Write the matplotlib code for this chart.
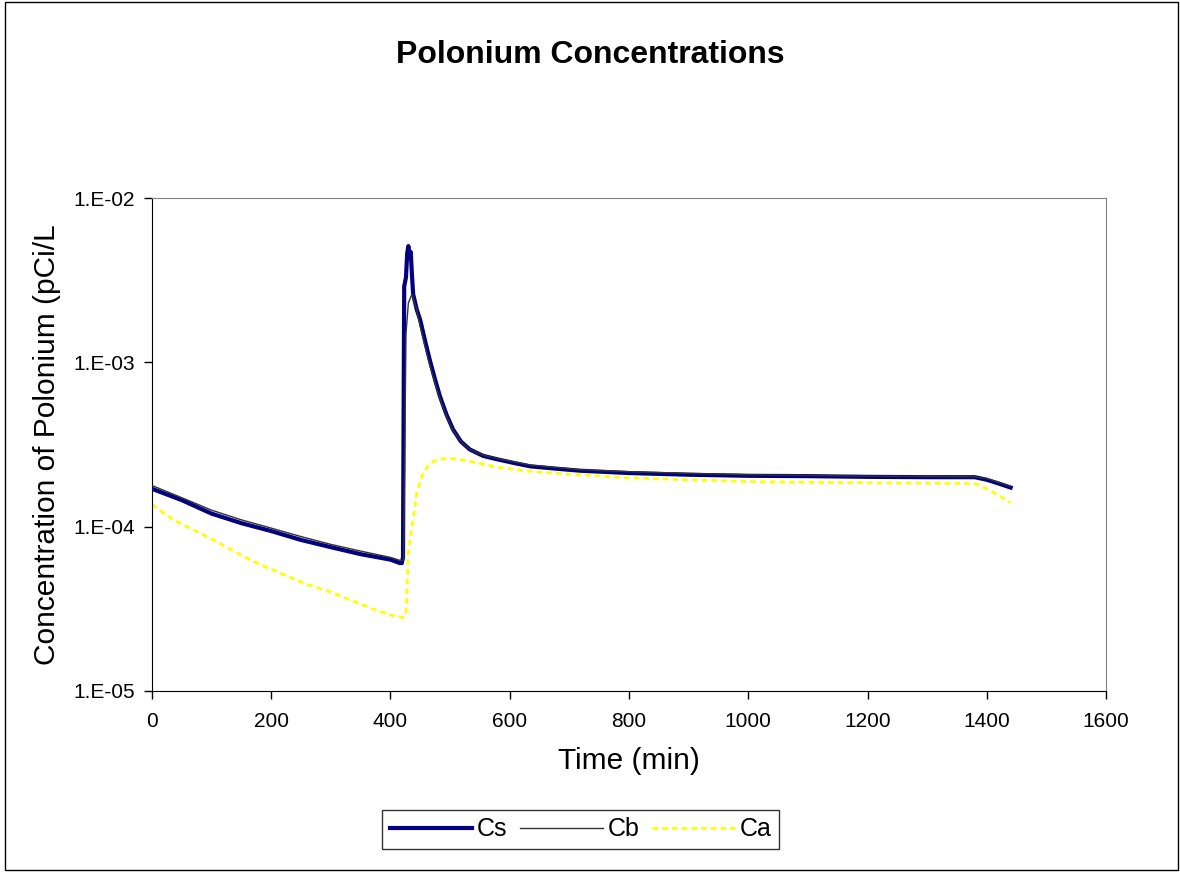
import math
import matplotlib
matplotlib.use("Agg")
import matplotlib.pyplot as plt
from matplotlib.ticker import FixedLocator, FuncFormatter, NullLocator
from matplotlib.patches import Rectangle

plt.rcParams['font.family'] = ['Liberation Sans', 'DejaVu Sans']

# Cs - surface concentration (pCi/L)
cs_t = [0, 50, 100, 150, 200, 250, 300, 350, 400, 416, 419, 421, 422, 423, 426, 428, 430,
        432, 434, 436, 438, 444, 450, 458, 466, 475, 483, 494, 505, 518, 533, 555, 579,
        605, 634, 680, 718, 800, 900, 1000, 1100, 1200, 1300, 1380, 1400, 1420, 1440]
cs_v = [1.70e-4, 1.45e-4, 1.20e-4, 1.05e-4, 9.4e-5, 8.3e-5, 7.5e-5, 6.8e-5, 6.3e-5, 6.0e-5,
        6.0e-5, 6.5e-5, 5.0e-4, 2.9e-3, 3.3e-3, 4.6e-3, 5.1e-3, 4.4e-3, 4.7e-3, 3.4e-3,
        2.6e-3, 2.1e-3, 1.8e-3, 1.35e-3, 1.03e-3, 7.8e-4, 6.2e-4, 4.8e-4, 3.9e-4, 3.3e-4,
        2.95e-4, 2.7e-4, 2.57e-4, 2.45e-4, 2.33e-4, 2.25e-4, 2.19e-4, 2.12e-4, 2.07e-4,
        2.04e-4, 2.03e-4, 2.01e-4, 2.0e-4, 2.0e-4, 1.93e-4, 1.83e-4, 1.73e-4]

# Cb - bulk concentration
cb_t = [0, 50, 100, 150, 200, 250, 300, 350, 400, 418, 422, 426, 430, 436, 444, 450, 458,
        466, 475, 483, 494, 505, 518, 533, 555, 579, 634, 718, 800, 900, 1000, 1100, 1200,
        1300, 1380, 1400, 1420, 1440]
cb_v = [1.78e-4, 1.50e-4, 1.26e-4, 1.10e-4, 9.8e-5, 8.7e-5, 7.8e-5, 7.1e-5, 6.5e-5, 6.2e-5,
        6.3e-5, 1.5e-3, 2.3e-3, 2.6e-3, 2.1e-3, 1.65e-3, 1.25e-3, 9.6e-4, 7.4e-4, 6.0e-4,
        4.7e-4, 3.85e-4, 3.3e-4, 2.95e-4, 2.72e-4, 2.6e-4, 2.37e-4, 2.22e-4, 2.16e-4,
        2.11e-4, 2.07e-4, 2.05e-4, 2.03e-4, 2.02e-4, 2.01e-4, 1.96e-4, 1.86e-4, 1.76e-4]

# Ca - air concentration
ca_t = [0, 36, 92, 164, 200, 260, 300, 371, 400, 421, 426, 428, 430, 434, 438, 444, 450,
        455, 463, 472, 485, 495, 510, 528, 550, 572, 600, 622, 690, 800, 900, 1000, 1100,
        1200, 1300, 1380, 1400, 1420, 1440]
ca_v = [1.36e-4, 1.10e-4, 8.7e-5, 6.3e-5, 5.5e-5, 4.45e-5, 4.0e-5, 3.15e-5, 2.9e-5, 2.8e-5,
        2.9e-5, 4.5e-5, 6.9e-5, 9.0e-5, 1.1e-4, 1.6e-4, 1.9e-4, 2.13e-4, 2.35e-4, 2.5e-4,
        2.58e-4, 2.6e-4, 2.58e-4, 2.52e-4, 2.42e-4, 2.32e-4, 2.25e-4, 2.19e-4, 2.1e-4,
        1.98e-4, 1.93e-4, 1.88e-4, 1.86e-4, 1.85e-4, 1.84e-4, 1.83e-4, 1.7e-4, 1.55e-4, 1.4e-4]

x_ticks = [0, 200, 400, 600, 800, 1000, 1200, 1400, 1600]
y_ticks = [1e-5, 1e-4, 1e-3, 1e-2]


def y_label_fmt(v, pos):
    # Excel style: 1.E-02
    exp = int(round(math.log10(v)))
    return "1.E-%02d" % (-exp) if exp < 0 else "1.E+%02d" % exp


fig = plt.figure(figsize=(11.8, 8.72), dpi=100)
ax = fig.add_axes([0.1288, 0.2076, 0.8085, 0.5653])

ax.plot(cs_t, cs_v, color='#000080', lw=3, label='Cs', zorder=3)
ax.plot(cb_t, cb_v, color='#333333', lw=1, label='Cb', zorder=4)
ax.plot(ca_t, ca_v, color='#FFFF00', lw=2, ls=(0, (2, 1.5)), label='Ca', zorder=2)

ax.set_yscale('log')
ax.set_ylim(1e-5, 1e-2)
ax.set_xlim(0, 1600)
ax.xaxis.set_major_locator(FixedLocator(x_ticks))
ax.yaxis.set_major_locator(FixedLocator(y_ticks))
ax.yaxis.set_minor_locator(NullLocator())
ax.yaxis.set_major_formatter(FuncFormatter(y_label_fmt))
ax.tick_params(axis='both', direction='out', length=6, labelsize=15, width=1)
ax.tick_params(axis='x', pad=9)
ax.tick_params(axis='y', pad=6)

for side in ['top', 'right']:
    ax.spines[side].set_color('#808080')
for side in ['left', 'bottom']:
    ax.spines[side].set_color('black')

ax.set_xlabel('Time (min)', fontsize=21.5, labelpad=12)
ax.set_ylabel('Concentration of Polonium (pCi/L', fontsize=21.5, labelpad=9)

fig.text(0.5, 0.937, 'Polonium Concentrations', ha='center', va='center',
         fontsize=23, fontweight='bold')

leg = fig.legend(loc='center', bbox_to_anchor=(0.492, 0.049), ncol=3, fontsize=18,
                 frameon=True, fancybox=False, edgecolor='black', handlelength=3.3,
                 columnspacing=0.5, handletextpad=0.2, borderpad=0.3)
leg.get_frame().set_linewidth(1)

fig.add_artist(Rectangle((0.004, 0.002), 0.994, 0.996, transform=fig.transFigure,
                         fill=False, edgecolor='black', lw=1))

fig.savefig('out.png', dpi=100)
